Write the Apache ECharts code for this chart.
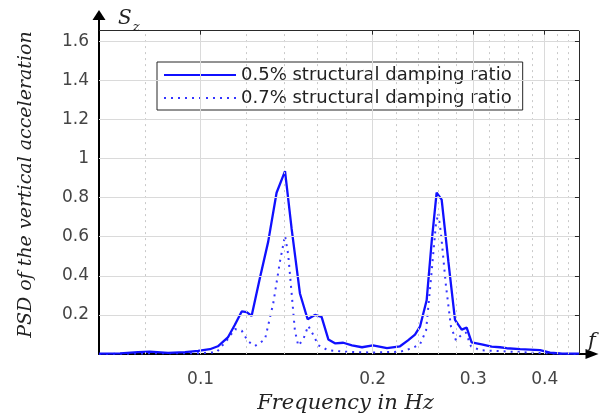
<!DOCTYPE html>
<html>
<head>
<meta charset="utf-8">
<script src="https://cdn.jsdelivr.net/npm/echarts@6/dist/echarts.min.js"></script>
<style>
  html, body { margin: 0; padding: 0; background: #fff; }
  #chart { width: 600px; height: 419px; }
</style>
</head>
<body>
<div id="chart"></div>
<script>
// PSD of the vertical acceleration, two structural damping ratios
const seriesNames = ['0.5% structural damping ratio', '0.7% structural damping ratio'];

const freqSolid = [0.0664, 0.0723, 0.0777, 0.0815, 0.0877, 0.0939, 0.0990, 0.1038, 0.1072, 0.1116,
  0.1148, 0.1180, 0.1204, 0.1228, 0.1270, 0.1313, 0.1358, 0.1405, 0.1443, 0.1492,
  0.1539, 0.1585, 0.1628, 0.1673, 0.1718, 0.1777, 0.1840, 0.1916, 0.2002, 0.2119,
  0.2233, 0.2306, 0.2372, 0.2420, 0.2486, 0.2537, 0.2588, 0.2605, 0.2641, 0.2713,
  0.2787, 0.2863, 0.2921, 0.2980, 0.3103, 0.3230, 0.3341, 0.3432, 0.3622, 0.3925,
  0.4087, 0.4255, 0.4592];
const psdSolid = [0.002, 0.004, 0.010, 0.013, 0.006, 0.010, 0.016, 0.025, 0.040, 0.085,
  0.150, 0.218, 0.215, 0.195, 0.390, 0.575, 0.825, 0.935, 0.640, 0.310,
  0.178, 0.200, 0.190, 0.075, 0.055, 0.058, 0.045, 0.035, 0.045, 0.030,
  0.040, 0.070, 0.100, 0.140, 0.275, 0.575, 0.825, 0.835, 0.790, 0.475,
  0.175, 0.125, 0.135, 0.060, 0.050, 0.038, 0.035, 0.030, 0.025, 0.020,
  0.008, 0.003, 0.002];

const freqDotted = [0.0664, 0.0815, 0.0990, 0.1067, 0.1118, 0.1148, 0.1180, 0.1210, 0.1245, 0.1296,
  0.1340, 0.1377, 0.1405, 0.1423, 0.1443, 0.1462, 0.1482, 0.1512, 0.1543, 0.1573,
  0.1607, 0.1670, 0.1789, 0.1994, 0.2233, 0.2343, 0.2420, 0.2480, 0.2529, 0.2580,
  0.2605, 0.2633, 0.2687, 0.2742, 0.2798, 0.2863, 0.2912, 0.2972, 0.3083, 0.3341,
  0.3622, 0.3925, 0.4592];
const psdDotted = [0.000, 0.004, 0.004, 0.010, 0.080, 0.128, 0.120, 0.065, 0.042, 0.075,
  0.260, 0.475, 0.605, 0.510, 0.310, 0.120, 0.043, 0.075, 0.145, 0.100,
  0.045, 0.020, 0.012, 0.008, 0.012, 0.030, 0.050, 0.120, 0.380, 0.660,
  0.720, 0.620, 0.350, 0.140, 0.070, 0.100, 0.110, 0.040, 0.020, 0.015,
  0.010, 0.005, 0.000];

// axis ticks and grid
const freqTicks = [0.1, 0.2, 0.3, 0.4];
const freqMinorTicks = [0.08, 0.12, 0.14, 0.16, 0.18, 0.22, 0.24, 0.26, 0.28,
  0.32, 0.34, 0.36, 0.38, 0.42, 0.44];
const psdTicks = [0.2, 0.4, 0.6, 0.8, 1, 1.2, 1.4, 1.6];

// plot box and the axis extents that carry the arrows past it
const freqBox = [0.0664, 0.4592];
const psdBoxTop = 1.653;
const freqAxisEnd = 0.4840;
const psdAxisEnd = 1.7335;

const lg = Math.log10;
const xMin = lg(freqBox[0]);
const xBox = lg(freqBox[1]);

const segments = [];
const seg = (x1, y1, x2, y2, style) => segments.push([{ coord: [x1, y1], lineStyle: style }, { coord: [x2, y2] }]);

const majorGrid = { color: '#dadada', width: 1, type: 'solid' };
const minorGrid = { color: '#c9c9c9', width: 1, type: [2, 4] };
const frame = { color: '#2a2a2a', width: 1, type: 'solid' };

freqMinorTicks.forEach(f => seg(lg(f), 0, lg(f), psdBoxTop, minorGrid));
freqTicks.forEach(f => seg(lg(f), 0, lg(f), psdBoxTop, majorGrid));
psdTicks.forEach(v => seg(xMin, v, xBox, v, majorGrid));
// box outline on top and right
seg(xMin, psdBoxTop, xBox, psdBoxTop, frame);
seg(xBox, 0, xBox, psdBoxTop, frame);
// inward tick marks on the top and right edges
freqTicks.forEach(f => seg(lg(f), psdBoxTop, lg(f), psdBoxTop - 0.02, frame));
psdTicks.forEach(v => seg(xBox - 0.007, v, xBox, v, frame));

const tickFont = { fontFamily: 'DejaVu Sans', fontSize: 17, color: '#444' };
const nameFont = { fontFamily: 'DejaVu Serif', fontStyle: 'italic', fontWeight: 'normal', color: '#222' };

const chart = echarts.init(document.getElementById('chart'), null, { renderer: 'canvas' });
chart.setOption({
  animation: false,
  backgroundColor: '#fff',
  title: [
    {
      text: '{s|S}{z|z}',
      left: 113, top: 3,
      textStyle: {
        fontWeight: 'normal',
        rich: {
          s: { fontFamily: 'DejaVu Serif', fontStyle: 'italic', fontWeight: 'normal', fontSize: 20, color: '#222', lineHeight: 22 },
          z: { fontFamily: 'DejaVu Serif', fontStyle: 'italic', fontWeight: 'normal', fontSize: 13, color: '#222', lineHeight: 22, verticalAlign: 'bottom', padding: [0, 0, -4, 1] }
        }
      }
    },
    {
      text: 'f',
      left: 583, top: 326,
      textStyle: { fontFamily: 'DejaVu Serif', fontStyle: 'italic', fontSize: 21, fontWeight: 'normal', color: '#222' }
    }
  ],
  grid: { left: 99, right: 8, top: 15, bottom: 57, containLabel: false },
  legend: {
    data: seriesNames,
    orient: 'vertical',
    left: 157, top: 62,
    padding: [4, 11, 3, 6],
    itemWidth: 72, itemHeight: 14, itemGap: 5,
    backgroundColor: '#fff',
    borderColor: '#262626', borderWidth: 1, borderRadius: 0,
    textStyle: { fontFamily: 'DejaVu Sans', fontSize: 18, color: '#222', lineHeight: 18 },
    itemStyle: { opacity: 0, borderWidth: 0 },
    lineStyle: { width: 2 }
  },
  xAxis: {
    type: 'value',
    min: xMin, max: lg(freqAxisEnd),
    name: 'Frequency in Hz',
    nameLocation: 'middle', nameGap: 37,
    nameTextStyle: { ...nameFont, fontSize: 21 },
    axisLine: { show: true, onZero: false, symbol: ['none', 'triangle'], symbolSize: [10, 13],
      lineStyle: { color: '#000', width: 2 } },
    axisTick: { show: true, inside: true, length: 4, customValues: freqTicks.map(lg), lineStyle: { color: '#2a2a2a' } },
    axisLabel: { customValues: freqTicks.map(lg), margin: 17, ...tickFont,
      formatter: v => String(+Math.pow(10, v).toFixed(2)) },
    splitLine: { show: false }
  },
  yAxis: {
    type: 'value',
    min: 0, max: psdAxisEnd,
    name: 'PSD of the vertical acceleration',
    nameLocation: 'middle', nameGap: 63, nameRotate: 90,
    nameTextStyle: { ...nameFont, fontSize: 19 },
    axisLine: { show: true, onZero: false, symbol: ['none', 'triangle'], symbolSize: [13, 10],
      lineStyle: { color: '#000', width: 2 } },
    axisTick: { show: true, inside: true, length: 4, customValues: psdTicks, lineStyle: { color: '#2a2a2a' } },
    axisLabel: { customValues: psdTicks, margin: 10, ...tickFont,
      formatter: v => String(+v.toFixed(1)) },
    splitLine: { show: false }
  },
  series: [
    {
      name: 'grid',
      type: 'line',
      data: [],
      z: 1,
      silent: true,
      markLine: {
        silent: true,
        symbol: ['none', 'none'],
        label: { show: false },
        emphasis: { disabled: true },
        animation: false,
        data: segments
      }
    },
    {
      name: seriesNames[0],
      type: 'line',
      z: 4,
      symbol: 'none',
      data: freqSolid.map((f, i) => [lg(f), psdSolid[i]]),
      lineStyle: { color: '#1010ff', width: 2.3, type: 'solid' },
      itemStyle: { color: '#1010ff' }
    },
    {
      name: seriesNames[1],
      type: 'line',
      z: 3,
      symbol: 'none',
      data: freqDotted.map((f, i) => [lg(f), psdDotted[i]]),
      lineStyle: { color: '#3535ff', width: 2, type: [2, 5] },
      itemStyle: { color: '#3535ff' }
    }
  ]
});
</script>
</body>
</html>
